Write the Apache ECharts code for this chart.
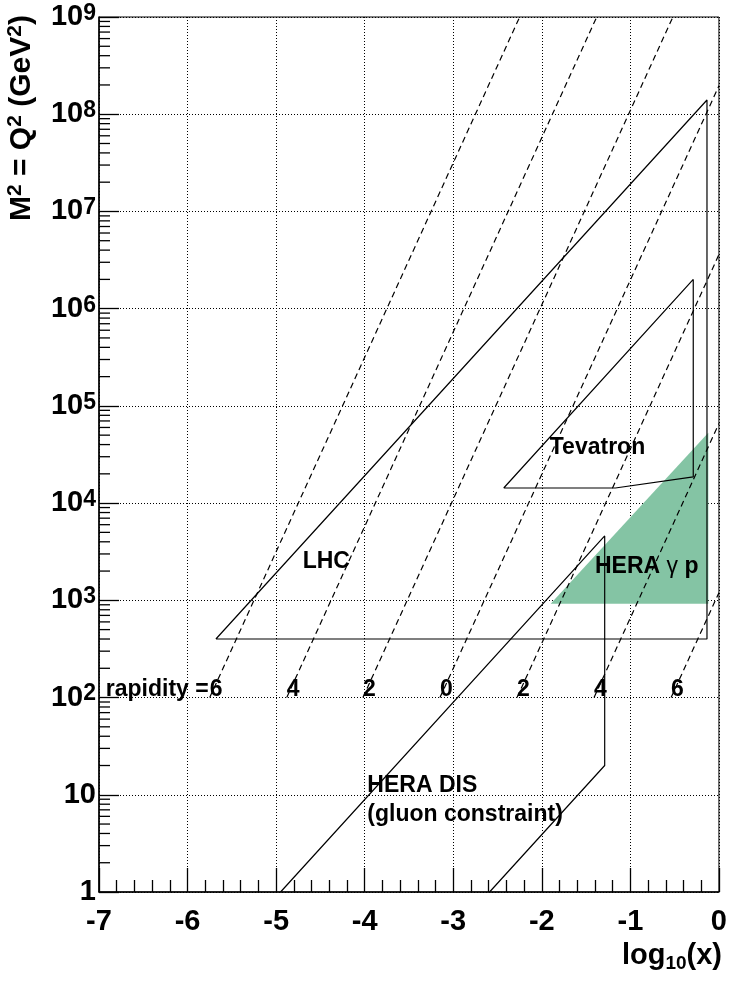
<!DOCTYPE html>
<html>
<head>
<meta charset="utf-8">
<script src="https://cdn.jsdelivr.net/npm/echarts@6/dist/echarts.min.js"></script>
<style>
  html, body { margin: 0; padding: 0; background: #fff; }
  #chart { width: 730px; height: 981px; }
</style>
</head>
<body>
<div id="chart"></div>
<script>
const FONT = "'Liberation Sans', Arial, Helvetica, sans-serif"

// y tick labels, indexed by decade
const yTickLabels = ['1', '10', '2', '3', '4', '5', '6', '7', '8', '9']
// minor ticks inside each decade (log axis)
const minorSteps = [2, 3, 4, 5, 6, 7, 8, 9]

// kinematic regions, [log10(x), M^2]
const lhc = [[-5.68, 400], [-0.135, 1.4e8], [-0.135, 400], [-5.68, 400]]
const tevatron = [[-2.43, 1.43e4], [-0.29, 2.0e6], [-0.29, 1.86e4], [-1.17, 1.43e4], [-2.43, 1.43e4]]
const heraGammaP = [[-1.90, 920], [-0.12, 5.3e4], [-0.12, 920]]
const heraDis = [[-4.95, 1], [-1.29, 4.6e3], [-1.29, 20], [-2.59, 1]]

// lines of constant rapidity
const rapidityLabels = ['6', '4', '2', '0', '2', '4', '6']
const rapidityStart = [[-5.75, 100], [-4.88, 100], [-4.02, 100], [-3.15, 100], [-2.28, 100], [-1.41, 100], [-0.54, 100]]
const rapidityEnd = [[-2.25, 1e9], [-1.38, 1e9], [-0.52, 1e9], [0, 1.96e8], [0, 3.6e6], [0, 6.6e4], [0, 1.2e3]]
const rapidityLabelM2 = 122

// region names and where they sit
const regionNames = ['LHC', 'Tevatron', '{b|HERA }{g|γ}{b| p}', 'HERA DIS', '(gluon constraint)']
const regionNameAt = [[-4.70, 2.5e3], [-1.91, 3.7e4], [-1.40, 2.2e3], [-3.97, 12.5], [-3.97, 6.3]]

const minorYTicks = []
for (let d = 0; d < 9; d++) {
  minorSteps.forEach(m => minorYTicks.push([-7, m * Math.pow(10, d)]))
}

const black = '#000'
const labelFont = { fontFamily: FONT, fontWeight: 'bold', color: black }

const textItem = (pt, text, align) => ({
  type: 'text',
  x: pt[0],
  y: pt[1],
  style: {
    text: text,
    align: align,
    verticalAlign: 'middle',
    fontFamily: FONT,
    fontWeight: 'bold',
    fontSize: 23,
    fill: black,
    rich: {
      b: { fontFamily: FONT, fontWeight: 'bold', fontSize: 23, fill: black },
      g: { fontFamily: FONT, fontWeight: 'normal', fontSize: 23, fill: black }
    }
  }
})

const polyLine = (data) => ({
  type: 'line',
  data: data,
  symbol: 'none',
  silent: true,
  z: 3,
  lineStyle: { color: black, width: 1.2 }
})

const series = []

series.push({
  type: 'custom',
  silent: true,
  z: 1,
  data: heraGammaP,
  renderItem: (params, api) => {
    if (params.dataIndex !== 0) return
    return {
      type: 'polygon',
      shape: { points: heraGammaP.map(p => api.coord(p)) },
      style: { fill: '#84c4a4' }
    }
  }
})

rapidityStart.forEach((p, i) => {
  series.push({
    type: 'line',
    data: [p, rapidityEnd[i]],
    symbol: 'none',
    silent: true,
    z: 3,
    lineStyle: { color: black, width: 1.2, type: [6, 4] }
  })
})

series.push(polyLine(lhc), polyLine(tevatron), polyLine(heraDis))

// minor ticks of the log y axis
series.push({
  type: 'custom',
  silent: true,
  z: 4,
  data: minorYTicks,
  renderItem: (params, api) => {
    const p = api.coord([api.value(0), api.value(1)])
    return {
      type: 'line',
      shape: { x1: p[0], y1: p[1], x2: p[0] + 11, y2: p[1] },
      style: { stroke: black, lineWidth: 1.3 }
    }
  }
})

// rapidity labels
series.push({
  type: 'custom',
  silent: true,
  z: 5,
  data: rapidityStart.map((p, i) => [p[0], rapidityLabelM2, i]),
  renderItem: (params, api) => {
    const i = api.value(2)
    const pt = api.coord([api.value(0), api.value(1)])
    if (i === 0) {
      return {
        type: 'group',
        children: [
          textItem([pt[0] - 1, pt[1]], 'rapidity =', 'right'),
          textItem(pt, rapidityLabels[i], 'left')
        ]
      }
    }
    return textItem(pt, rapidityLabels[i], 'left')
  }
})

// region names
series.push({
  type: 'custom',
  silent: true,
  z: 5,
  data: regionNameAt.map((p, i) => [p[0], p[1], i]),
  renderItem: (params, api) => {
    const pt = api.coord([api.value(0), api.value(1)])
    return textItem(pt, regionNames[api.value(2)], 'left')
  }
})

const chart = echarts.init(document.getElementById('chart'))
chart.setOption({
  animation: false,
  backgroundColor: '#fff',
  grid: {
    left: 99, right: 8, top: 17, bottom: 89,
    show: true, borderColor: black, borderWidth: 1
  },
  xAxis: {
    type: 'value',
    min: -7,
    max: 0,
    interval: 1,
    axisLine: { show: true, onZero: false, lineStyle: { color: black, width: 1.5 } },
    axisTick: { show: true, inside: true, length: 24, lineStyle: { color: black, width: 1.3 } },
    minorTick: { show: true, splitNumber: 5, length: 12, lineStyle: { color: black, width: 1.3 } },
    axisLabel: { ...labelFont, fontSize: 29, margin: 15, showMinLabel: true, showMaxLabel: true },
    splitLine: { show: true, lineStyle: { color: black, width: 1, type: [1, 2] } }
  },
  yAxis: {
    type: 'log',
    logBase: 10,
    min: 1,
    max: 1e9,
    splitNumber: 9,
    axisLine: { show: true, onZero: false, lineStyle: { color: black, width: 1.5 } },
    axisTick: { show: true, inside: true, length: 20, lineStyle: { color: black, width: 1.3 } },
    axisLabel: {
      ...labelFont,
      fontSize: 29,
      margin: 3,
      showMinLabel: true,
      showMaxLabel: true,
      formatter: (v) => {
        const d = Math.round(Math.log10(v))
        if (d < 2) return yTickLabels[d]
        return '{b|10}{s|' + yTickLabels[d] + '}'
      },
      rich: {
        b: { ...labelFont, fontSize: 29, lineHeight: 30, verticalAlign: 'middle' },
        s: { ...labelFont, fontSize: 23, lineHeight: 23, verticalAlign: 'top', padding: [0, 0, 18, 0] }
      }
    },
    splitLine: { show: true, lineStyle: { color: black, width: 1, type: [1, 2] } }
  },
  graphic: [
    {
      type: 'text',
      x: 722,
      y: 941,
      style: {
        text: '{a|log}{s|10}{a|(x)}',
        align: 'right',
        verticalAlign: 'top',
        rich: {
          a: { fontFamily: FONT, fontWeight: 'bold', fontSize: 29, lineHeight: 32, verticalAlign: 'top', fill: black },
          s: { fontFamily: FONT, fontWeight: 'bold', fontSize: 19, lineHeight: 19, verticalAlign: 'bottom', padding: [21, 0, 0, 0], fill: black }
        }
      }
    },
    {
      type: 'text',
      x: 21,
      y: 221,
      rotation: Math.PI / 2,
      style: {
        text: '{a|M}{s|2}{a| = Q}{s|2}{a| (GeV}{s|2}{a|)}',
        align: 'left',
        verticalAlign: 'middle',
        rich: {
          a: { fontFamily: FONT, fontWeight: 'bold', fontSize: 30, lineHeight: 32, verticalAlign: 'bottom', fill: black },
          s: { fontFamily: FONT, fontWeight: 'bold', fontSize: 21, lineHeight: 21, verticalAlign: 'top', padding: [0, 0, 15, 0], fill: black }
        }
      }
    }
  ],
  series: series
})
</script>
</body>
</html>
